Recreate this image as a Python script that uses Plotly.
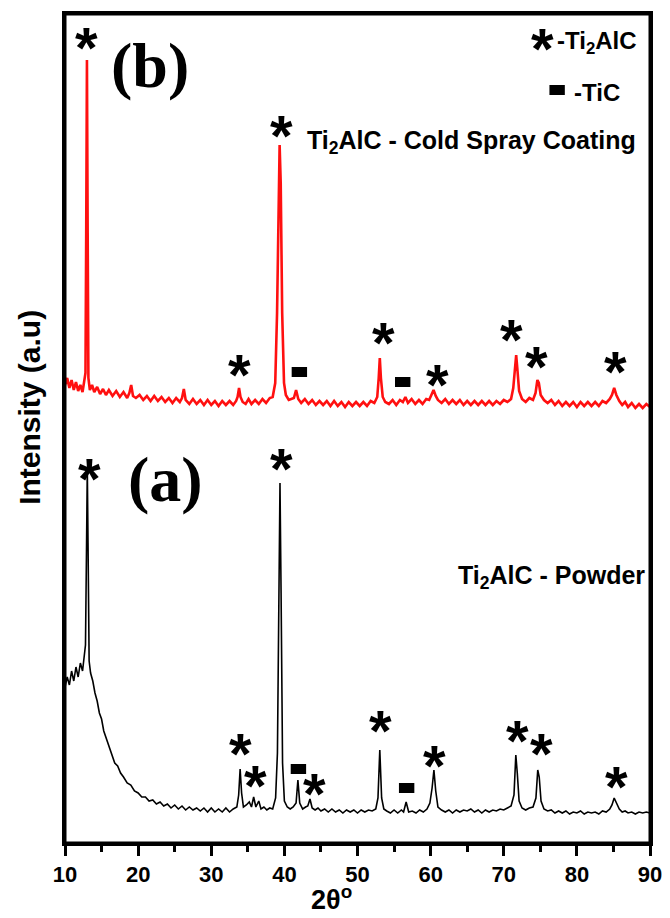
import plotly.graph_objects as go

# ---------------- data ----------------
# (a) Ti2AlC powder: (2theta, intensity a.u.)
powder_points = [(10.0,156),(10.3,166),(10.6,158),(10.9,172),(11.2,162),(11.5,176),(11.8,166),(12.1,180),(12.4,172),(12.6,188),(12.8,198),(12.95,300),(13.05,375),(13.15,300),(13.3,182),(13.5,170),(13.8,162),(14.1,150),(14.4,142),(14.7,130),(15.0,124),(15.3,112),(15.6,106),(16.0,96),(16.4,90),(16.8,80),(17.2,77),(17.6,70),(18.0,66),(18.5,60),(19.0,58),(19.5,52),(20.0,50),(20.5,46),(21.0,46),(21.5,42),(22.0,43),(22.5,39),(23.0,41),(23.5,37),(24.0,39),(24.5,35),(25.0,38),(25.5,34),(26.0,37),(26.5,33),(27.0,36),(27.5,33),(28.0,35),(28.5,32),(29.0,35),(29.5,31),(30.0,35),(30.5,31),(31.0,34),(31.5,31),(32.0,35),(32.5,31),(33.0,34),(33.5,36),(33.75,48),(33.95,74),(34.15,50),(34.4,36),(34.8,38),(35.2,41),(35.5,36),(35.8,46),(36.1,36),(36.5,42),(36.8,34),(37.2,36),(37.6,33),(38.0,35),(38.4,34),(38.8,45),(39.05,90),(39.25,250),(39.4,360),(39.55,250),(39.75,80),(40.0,42),(40.4,36),(40.8,34),(41.2,36),(41.6,40),(41.85,63),(42.1,40),(42.5,34),(42.9,36),(43.2,37),(43.5,44),(43.8,35),(44.2,33),(44.6,35),(45.0,32),(45.5,34),(46.0,31),(46.5,34),(47.0,31),(47.5,33),(48.0,30),(48.5,33),(49.0,31),(49.5,33),(50.0,30),(50.5,33),(51.0,31),(51.5,33),(52.0,32),(52.5,34),(52.8,45),(53.05,93),(53.3,45),(53.6,34),(54.0,32),(54.5,30),(55.0,33),(55.5,30),(56.0,33),(56.3,31),(56.65,41),(57.0,31),(57.5,32),(58.0,30),(58.5,33),(59.0,31),(59.5,34),(59.9,40),(60.2,55),(60.45,73),(60.7,52),(61.0,36),(61.5,33),(62.0,31),(62.5,33),(63.0,30),(63.5,33),(64.0,31),(64.5,33),(65.0,32),(65.5,34),(66.0,31),(66.5,33),(67.0,30),(67.5,33),(68.0,31),(68.5,33),(69.0,32),(69.5,34),(70.0,33),(70.5,35),(71.0,37),(71.4,48),(71.65,88),(71.85,70),(72.1,42),(72.5,35),(73.0,33),(73.5,35),(74.0,36),(74.4,45),(74.65,73),(74.85,66),(75.1,42),(75.5,34),(76.0,32),(76.5,33),(77.0,30),(77.5,32),(78.0,30),(78.5,32),(79.0,29),(79.5,31),(80.0,30),(80.5,32),(81.0,29),(81.5,31),(82.0,30),(82.5,31),(83.0,29),(83.5,32),(84.0,31),(84.5,34),(84.8,38),(85.1,45),(85.4,40),(85.8,34),(86.2,31),(86.6,32),(87.0,30),(87.5,31),(88.0,29),(88.5,31),(89.0,30),(89.5,31),(90.0,30)]

# (b) Ti2AlC cold spray coating: (2theta, intensity a.u.), drawn with a vertical offset
coating_points = [(10.0,48),(10.3,55),(10.6,45),(10.9,53),(11.2,43),(11.5,51),(11.8,42),(12.1,48),(12.4,41),(12.6,50),(12.8,60),(12.9,200),(13.0,373),(13.1,200),(13.2,55),(13.4,43),(13.7,48),(14.0,41),(14.4,46),(14.8,39),(15.2,44),(15.6,38),(16.0,43),(16.5,37),(17.0,42),(17.5,36),(18.0,41),(18.5,35),(18.8,40),(19.05,48),(19.3,37),(19.7,35),(20.2,38),(20.7,33),(21.2,37),(21.7,32),(22.2,37),(22.7,32),(23.2,36),(23.7,31),(24.2,35),(24.7,30),(25.2,35),(25.7,31),(26.0,35),(26.25,44),(26.5,33),(27.0,29),(27.5,34),(28.0,29),(28.5,33),(29.0,28),(29.5,33),(30.0,28),(30.5,32),(31.0,27),(31.5,32),(32.0,28),(32.5,32),(33.0,28),(33.4,32),(33.6,36),(33.8,45),(34.0,36),(34.3,31),(34.7,29),(35.1,34),(35.5,29),(36.0,33),(36.5,29),(37.0,34),(37.5,30),(38.0,35),(38.4,36),(38.75,50),(39.0,120),(39.2,250),(39.35,288),(39.5,250),(39.7,120),(39.95,50),(40.2,38),(40.6,33),(41.0,34),(41.3,35),(41.6,43),(41.9,34),(42.3,30),(42.8,34),(43.3,29),(43.8,33),(44.3,28),(44.8,32),(45.3,28),(45.8,32),(46.3,27),(46.8,32),(47.3,27),(47.8,31),(48.3,26),(48.8,31),(49.3,27),(49.8,31),(50.3,27),(50.8,31),(51.3,27),(51.8,32),(52.3,30),(52.7,36),(52.9,55),(53.05,75),(53.2,55),(53.45,36),(53.8,31),(54.3,29),(54.8,33),(55.3,28),(55.8,33),(56.2,31),(56.55,36),(56.9,30),(57.4,34),(57.9,29),(58.4,33),(58.9,29),(59.4,34),(59.8,33),(60.1,38),(60.4,43),(60.7,37),(61.0,33),(61.5,30),(62.0,34),(62.5,29),(63.0,33),(63.5,29),(64.0,33),(64.5,28),(65.0,32),(65.5,28),(66.0,32),(66.5,28),(67.0,32),(67.5,28),(68.0,32),(68.5,28),(69.0,32),(69.5,29),(70.0,33),(70.5,31),(71.0,34),(71.3,45),(71.55,65),(71.7,78),(71.85,65),(72.1,42),(72.5,34),(73.0,31),(73.5,35),(74.0,33),(74.35,40),(74.6,53),(74.8,50),(75.05,38),(75.5,33),(76.0,30),(76.5,33),(77.0,28),(77.5,32),(78.0,27),(78.5,31),(79.0,27),(79.5,31),(80.0,26),(80.5,31),(81.0,27),(81.5,31),(82.0,27),(82.5,31),(83.0,27),(83.5,32),(84.0,30),(84.5,34),(84.8,38),(85.1,45),(85.4,38),(85.8,32),(86.2,28),(86.6,31),(87.0,26),(87.5,30),(88.0,25),(88.5,29),(89.0,25),(89.5,29),(90.0,26)]
coating_offset = 410

powder_2theta = [p[0] for p in powder_points]
powder_intensity = [p[1] for p in powder_points]
coating_2theta = [p[0] for p in coating_points]
coating_intensity = [p[1] + coating_offset for p in coating_points]

# phase labels: Ti2AlC (*) and TiC (rectangle), label heights in plot intensity units
ti2alc_b_2theta = [12.99, 39.61, 33.90, 53.60, 60.93, 71.12, 74.51, 85.24]
ti2alc_b_height = [804, 716, 477, 509, 467, 512, 485, 480]
tic_b_2theta = [42.05, 56.18]
tic_b_height = [471, 461]
ti2alc_a_2theta = [13.40, 39.61, 34.04, 36.08, 44.09, 53.19, 60.53, 71.94, 75.19, 85.38]
ti2alc_a_height = [373, 383, 98, 66, 58, 121, 86, 111, 98, 65]
tic_a_2theta = [41.92, 56.72]
tic_a_height = [74, 55]

x_ticks = [10, 20, 30, 40, 50, 60, 70, 80, 90]

# ---------------- figure ----------------
SANS = "Liberation Sans, Arial, sans-serif"
SERIF = "Liberation Serif, Times New Roman, serif"

fig = go.Figure()
fig.add_trace(go.Scatter(x=powder_2theta, y=powder_intensity, mode="lines",
                         line=dict(color="black", width=1.6), showlegend=False, hoverinfo="skip"))
fig.add_trace(go.Scatter(x=coating_2theta, y=coating_intensity, mode="lines",
                         line=dict(color="#ff1010", width=2.6), showlegend=False, hoverinfo="skip"))

# TiC rectangles (incl. legend key)
fig.add_trace(go.Scatter(x=tic_b_2theta + tic_a_2theta + [77.3],
                         y=tic_b_height + tic_a_height + [753],
                         mode="markers",
                         marker=dict(symbol="line-ew-open", size=11, color="black",
                                     line=dict(width=10, color="black")),
                         showlegend=False, hoverinfo="skip"))

annotations = []
STAR_SHIFT = -8
star_font = dict(family=SANS, size=58, color="black", weight="bold")
for xs, ys in ((ti2alc_b_2theta, ti2alc_b_height), (ti2alc_a_2theta, ti2alc_a_height)):
    for x, y in zip(xs, ys):
        annotations.append(dict(x=x, y=y, text="*", showarrow=False, xanchor="center", yanchor="middle",
                                yshift=STAR_SHIFT, font=star_font))

# legend
annotations.append(dict(x=75.3, y=801, text="*", showarrow=False, xanchor="center", yanchor="middle",
                        yshift=STAR_SHIFT + 2, font=star_font))
annotations.append(dict(x=77.0, y=801, text="-Ti<sub>2</sub>AlC", showarrow=False, xanchor="left", yanchor="middle",
                        font=dict(family=SANS, size=24, color="black", weight="bold")))
annotations.append(dict(x=79.4, y=751, text="-TiC", showarrow=False, xanchor="left", yanchor="middle",
                        font=dict(family=SANS, size=24, color="black", weight="bold")))

annotations.append(dict(x=21.65, y=778, text="(b)", showarrow=False, xanchor="center", yanchor="middle",
                        font=dict(family=SERIF, size=64, color="black", weight="bold")))
annotations.append(dict(x=23.8, y=361, text="(a)", showarrow=False, xanchor="center", yanchor="middle",
                        yshift=3, font=dict(family=SERIF, size=64, color="black", weight="bold")))
annotations.append(dict(x=88.4, y=701, text="Ti<sub>2</sub>AlC - Cold Spray Coating", showarrow=False,
                        xanchor="right", yanchor="middle",
                        font=dict(family=SANS, size=25, color="black", weight="bold")))
annotations.append(dict(x=89.6, y=266, text="Ti<sub>2</sub>AlC - Powder", showarrow=False,
                        xanchor="right", yanchor="middle",
                        font=dict(family=SANS, size=25, color="black", weight="bold")))

# axis titles as annotations
annotations.append(dict(xref="paper", yref="paper", x=-0.06, y=0.526, text="Intensity (a.u)",
                        textangle=-90, showarrow=False, xanchor="center", yanchor="middle",
                        font=dict(family=SANS, size=30, color="black", weight="bold")))
annotations.append(dict(xref="paper", yref="paper", x=0.455, y=-0.066, text="2θ<sup>o</sup>",
                        showarrow=False, xanchor="center", yanchor="middle", borderpad=0,
                        font=dict(family=SANS, size=27, color="black", weight="bold")))

# page body has an 8px margin, so the figure is sized to fit inside 670x918
fig.update_layout(
    width=654, height=902,
    margin=dict(l=57, r=12, t=6, b=67, autoexpand=False),
    paper_bgcolor="white", plot_bgcolor="white",
    annotations=annotations,
    shapes=[dict(type="rect", xref="paper", yref="paper", x0=0, y0=0, x1=1, y1=1,
                 line=dict(color="black", width=3), layer="above")],
    xaxis=dict(range=[10, 90], tickvals=x_ticks, ticks="outside", ticklen=10, tickwidth=3,
               tickcolor="black", showline=True, linewidth=3, linecolor="black", mirror=True,
               showgrid=False, zeroline=False, ticklabelstandoff=0, ticklabeloverflow="allow",
               automargin=False,
               minor=dict(dtick=5, ticks="outside", ticklen=6, tickwidth=3, tickcolor="black"),
               tickfont=dict(family=SANS, size=22, color="black", weight="bold")),
    yaxis=dict(range=[0, 829], showticklabels=False, ticks="", showline=True, linewidth=3,
               linecolor="black", mirror=True, showgrid=False, zeroline=False, automargin=False),
)

fig.write_html("out.html")
